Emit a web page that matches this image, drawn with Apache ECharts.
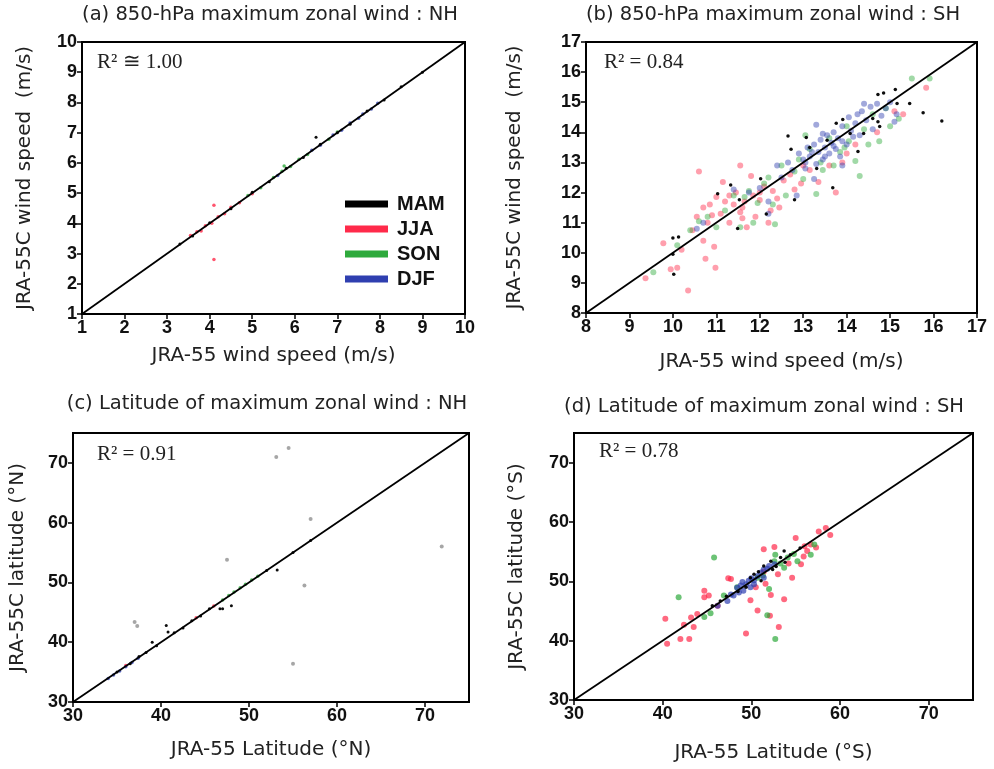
<!DOCTYPE html>
<html>
<head>
<meta charset="utf-8">
<script src="https://cdn.jsdelivr.net/npm/echarts@6/dist/echarts.min.js"></script>
<style>html,body{margin:0;padding:0;background:#fff}#c{width:994px;height:769px}</style>
</head>
<body>
<div id="c"></div>
<script>
// ---------- DATA ----------
const seasons = ['MAM', 'JJA', 'SON', 'DJF'];
const panelTitles = ['(a) 850-hPa maximum zonal wind : NH', '(b) 850-hPa maximum zonal wind : SH',
  '(c) Latitude of maximum zonal wind : NH', '(d) Latitude of maximum zonal wind : SH'];
const r2Labels = ['R\u00B2 \u2245 1.00', 'R\u00B2 = 0.84', 'R\u00B2 = 0.91', 'R\u00B2 = 0.78'];
const xNames = ['JRA-55 wind speed (m/s)', 'JRA-55 wind speed (m/s)', 'JRA-55 Latitude (\u00B0N)', 'JRA-55 Latitude (\u00B0S)'];
const yNames = ['JRA-55C wind speed  (m/s)', 'JRA-55C wind speed  (m/s)', 'JRA-55C latitude (\u00B0N)', 'JRA-55C latitude (\u00B0S)'];
const axisMin = [1, 8, 30, 30];
const axisMax = [10, 17, 75, 75];
const axisStep = [1, 1, 10, 10];

// Panel (a): NH 850-hPa max wind speed
const aMAM = [[3.3,3.32],[3.6,3.58],[4.0,4.02],[4.5,4.48],[5.0,5.03],[5.4,5.38],[5.8,5.82],[6.2,6.18],[6.5,6.85],[6.6,6.62],[7.0,7.0],[7.3,7.28],[7.7,7.72],[8.1,8.08],[8.5,8.52],[9.0,9.0]];
const aJJA = [[3.55,3.6],[3.7,3.72],[3.8,3.75],[3.9,3.92],[4.05,4.0],[4.1,4.6],[4.1,2.8],[4.2,4.22],[4.35,4.32],[4.5,4.53],[4.7,4.68],[5.0,4.98]];
const aSON = [[4.9,4.92],[5.2,5.18],[5.5,5.52],[5.7,5.72],[5.75,5.9],[5.9,5.88],[6.1,6.12],[6.3,6.28],[6.8,6.78],[7.0,7.02]];
const aDJF = [[5.6,5.58],[6.4,6.42],[6.6,6.58],[6.9,6.92],[7.1,7.08],[7.3,7.32],[7.5,7.48],[7.6,7.62],[7.8,7.78],[7.95,7.97]];

// Panel (b): SH 850-hPa max wind speed
const bMAM = [[10.02,9.29],[10.0,10.49],[10.13,10.52],[10.0,9.95],[11.03,11.96],[11.33,12.25],[11.53,11.76],[11.49,10.81],[12.02,12.46],[12.15,11.29],[12.65,13.88],[12.72,13.44],[13.07,13.83],[13.15,13.5],[13.68,12.16],[13.76,14.3],[13.91,14.43],[14.26,13.36],[14.6,14.46],[14.72,15.26],[14.85,15.31],[15.12,15.42],[15.16,14.96],[15.45,14.96],[15.76,14.65],[16.19,14.38],[14.76,14.19],[14.72,14.35],[13.55,13.74],[13.31,12.8],[12.8,11.76],[14.39,13.96],[14.08,13.96]];
const bJJA = [[9.37,9.15],[9.78,10.32],[10.1,9.5],[9.95,9.45],[10.35,8.75],[10.2,10.1],[10.45,10.75],[10.6,12.7],[10.55,11.2],[10.7,11.5],[10.75,9.8],[10.95,10.2],[10.98,9.5],[10.85,11.6],[10.9,11.25],[11.0,11.85],[11.1,11.3],[11.15,12.35],[11.2,11.7],[11.3,11.0],[11.4,11.6],[11.45,12.0],[11.55,12.9],[11.55,11.35],[11.6,11.5],[11.65,11.7],[11.7,10.85],[11.8,12.55],[11.85,11.9],[11.9,11.2],[12.0,11.75],[12.1,12.2],[12.2,11.0],[12.25,11.4],[12.3,12.05],[12.45,11.5],[12.55,12.4],[12.7,12.6],[12.8,12.1],[12.95,12.3],[13.15,12.75],[13.35,12.35],[13.6,12.9],[13.75,12.0],[13.9,13.0],[14.2,13.6],[14.7,14.0],[15.1,14.7],[15.3,14.6],[15.83,15.48],[14.0,13.3],[10.7,10.4],[10.8,11.0],[11.3,11.9],[11.6,11.15],[12.0,12.0],[12.4,11.8],[13.0,12.9]];
const bSON = [[9.55,9.35],[10.1,10.25],[10.4,10.75],[10.6,11.05],[10.8,11.2],[11.0,10.85],[11.2,11.4],[11.4,11.9],[11.55,10.85],[11.65,11.85],[11.75,12.05],[11.85,11.0],[11.95,11.65],[12.1,12.3],[12.3,11.6],[12.5,12.9],[12.6,11.9],[12.8,12.7],[12.9,13.1],[13.0,12.45],[13.15,13.45],[13.3,11.95],[13.45,12.75],[13.6,13.8],[13.7,12.9],[13.85,13.35],[14.0,14.2],[14.05,13.7],[14.2,13.05],[14.3,12.55],[14.5,13.6],[14.6,14.6],[14.75,13.7],[14.9,14.8],[15.0,14.2],[15.2,14.45],[15.5,15.79],[15.91,15.79],[12.2,12.5],[13.05,13.9],[12.35,10.95],[13.4,13.0],[13.95,13.5],[14.4,14.1]];
const bDJF = [[10.55,10.8],[10.7,11.0],[11.4,12.1],[11.75,12.0],[12.0,12.15],[12.2,11.3],[12.4,12.9],[12.5,12.5],[12.65,13.0],[12.75,12.75],[12.9,13.3],[13.0,13.1],[13.05,12.8],[13.1,13.5],[13.15,13.2],[13.25,13.6],[13.3,12.95],[13.35,13.35],[13.4,13.75],[13.45,13.1],[13.5,13.5],[13.55,13.9],[13.6,13.3],[13.65,13.65],[13.7,14.0],[13.75,13.45],[13.8,13.8],[13.85,13.2],[13.9,14.2],[14.0,13.6],[14.05,14.5],[14.1,14.05],[14.2,14.3],[14.3,13.9],[14.35,14.7],[14.45,14.4],[14.55,14.85],[14.6,14.1],[14.7,14.95],[14.8,14.55],[14.9,14.8],[15.0,15.0],[15.1,14.35],[15.15,14.6],[12.2,11.7],[13.25,12.45],[13.9,12.9],[12.85,11.9],[13.3,14.25],[14.4,14.95],[13.2,13.35],[13.5,13.2],[13.7,13.55],[13.9,13.7],[14.15,13.85],[13.05,13.0],[13.45,13.95],[14.25,14.6]];

// Panel (c): NH latitude of max wind
const cMAM = [[35,35],[36.5,36.4],[37.5,37.6],[38.3,38.3],[39,40],[39.5,39.4],[40.6,42.8],[40.8,41.7],[41.5,41.6],[42.5,42.4],[43.5,43.6],[44.5,44.4],[45.5,45.6],[46.7,45.6],[47.0,45.6],[48,46.1],[52,52],[53.2,52.1],[55,55],[57,57]];
const cJJA = [[36,36.1],[44,44.1],[46,46.05]];
const cSON = [[47,47.05],[47.7,47.8],[48.3,48.4],[49,49.1],[49.6,49.7],[50.3,50.4],[51,51.05]];
const cDJF = [[34,33.95],[34.6,34.5],[35.3,35.2],[36,35.9],[36.7,36.6],[37.4,37.3]];
const cOutliers = [[53.1,71.0],[54.5,72.5],[57.0,60.6],[47.5,53.8],[55.0,36.4],[71.9,56.0],[56.3,49.5],[37.0,43.4],[37.3,42.7]];

// Panel (d): SH latitude of max wind
const dMAM = [[46.5,46.7],[50.3,51.2],[52.2,53.4],[53.3,54.0],[51.4,52.6],[45.6,45.9],[54.4,54.5],[53.7,55.1],[49.4,49.0],[51.1,50.1],[47.2,47.5],[48.5,48.3],[52.8,52.5],[55.5,55.6],[50.8,51.6],[52.4,52.0],[53.8,53.2],[49.9,50.6]];
const dJJA = [[40.3,43.7],[40.5,39.5],[42.0,40.3],[43.0,40.3],[42.4,42.7],[43.5,42.3],[43.2,43.9],[43.9,44.5],[44.7,48.4],[44.7,47.3],[45.2,47.6],[46.2,45.9],[47.4,50.5],[47.7,50.4],[49.4,41.2],[49.9,46.8],[50.5,49.0],[50.7,45.1],[51.4,51.6],[51.6,49.6],[52.2,47.7],[53.1,42.3],[53.7,47.0],[54.6,50.6],[55.6,52.9],[56.3,55.1],[56.7,56.2],[57.6,58.4],[58.4,59.0],[58.9,57.8],[57.3,55.7],[55.0,57.3],[51.4,55.4],[52.6,55.8],[55.9,54.2],[52.1,44.2],[54.2,53.0],[53.0,51.2],[56.0,55.9]];
const dSON = [[52.6,53.4],[54.1,54.0],[55.2,53.4],[53.7,52.3],[48.4,49.0],[46.9,47.6],[45.4,44.6],[44.7,44.0],[52.7,54.5],[50.7,50.6],[57.1,56.2],[56.7,54.5],[52.0,48.7],[45.8,54.0],[41.8,47.3],[52.7,40.3],[51.8,44.3],[54.8,54.6],[53.3,53.0],[51.3,51.0]];
const dDJF = [[47.7,47.8],[48.4,48.9],[48.8,49.3],[49.4,49.5],[49.7,50.1],[50.3,50.2],[49.9,49.0],[50.7,50.9],[51.1,51.5],[51.4,52.0],[52.0,52.6],[52.6,52.9],[49.1,48.4],[48.0,47.6],[47.3,46.7],[46.2,45.9],[50.3,49.5],[51.4,50.6],[49.0,49.9],[50.0,50.5],[51.8,52.1],[48.6,48.1]];

const seasonColors = { MAM: '#000000', JJA: '#ff2a4a', SON: '#2eaa3c', DJF: '#2f3fb0' };

// ---------- LAYOUT ----------
const grids = [
  { left: 82, top: 42, width: 383, height: 272 },
  { left: 586, top: 42, width: 391, height: 271 },
  { left: 73, top: 433, width: 396, height: 269 },
  { left: 574, top: 433, width: 399, height: 267 }
];
const titlePos = [[270, 5], [773, 5], [267, 394], [764, 397]];
const r2Pos = [[97, 52], [604, 52], [97, 444], [599, 441]];
const xNameGap = [32, 39, 38, 43];
const yNameGap = [47, 61, 45, 47];

const panelData = [
  { MAM: aMAM, JJA: aJJA, SON: aSON, DJF: aDJF },
  { MAM: bMAM, JJA: bJJA, SON: bSON, DJF: bDJF },
  { MAM: cMAM, JJA: cJJA, SON: cSON, DJF: cDJF },
  { MAM: dMAM, JJA: dJJA, SON: dSON, DJF: dDJF }
];
const drawOrder = ['JJA', 'SON', 'DJF', 'MAM'];

const tickFont = { fontFamily: 'Liberation Sans, Arial, sans-serif', fontWeight: 'bold', fontSize: 18, color: '#111' };
const nameFont = { fontFamily: 'DejaVu Sans, sans-serif', fontSize: 20, color: '#222' };

const xAxes = [], yAxes = [], series = [], titles = [];
for (let i = 0; i < 4; i++) {
  const common = {
    type: 'value', gridIndex: i, min: axisMin[i], max: axisMax[i], interval: axisStep[i],
    splitLine: { show: false },
    axisLine: { show: false },
    axisTick: { show: true, inside: false, length: 5, lineStyle: { color: '#000', width: 1.5 } },
    axisLabel: Object.assign({ margin: 5, showMaxLabel: i < 2 }, tickFont),
    nameLocation: 'middle', nameTextStyle: nameFont
  };
  xAxes.push(Object.assign({}, common, { name: xNames[i], nameGap: xNameGap[i] }));
  yAxes.push(Object.assign({}, common, { name: yNames[i], nameGap: yNameGap[i] }));

  titles.push({ text: panelTitles[i], left: titlePos[i][0], top: titlePos[i][1], textAlign: 'center', padding: 0,
    textStyle: { fontFamily: 'DejaVu Sans, sans-serif', fontSize: 19.5, fontWeight: 'normal', color: '#222' } });
  titles.push({ text: r2Labels[i], left: r2Pos[i][0], top: r2Pos[i][1], padding: 0,
    textStyle: { fontFamily: 'Liberation Serif, DejaVu Serif, serif', fontSize: 21, fontWeight: 'normal', color: '#222' } });

  const isDense = (i === 1 || i === 3);
  drawOrder.forEach(s => {
    const black = s === 'MAM';
    series.push({
      type: 'scatter', name: s, xAxisIndex: i, yAxisIndex: i,
      data: panelData[i][s],
      symbolSize: black ? (isDense ? 3.5 : 3) : (isDense ? 6 : 3.5),
      itemStyle: { color: seasonColors[s], opacity: black ? 0.95 : (i === 1 ? 0.45 : (i === 3 ? 0.7 : 0.8)) },
      z: black ? 4 : 3
    });
  });
  if (i === 2) {
    series.push({ type: 'scatter', name: 'MAM', xAxisIndex: 2, yAxisIndex: 2, data: cOutliers,
      symbolSize: 4, itemStyle: { color: '#000', opacity: 0.35 }, z: 3 });
  }
  series.push({
    type: 'line', xAxisIndex: i, yAxisIndex: i, silent: true, symbol: 'none',
    data: [[axisMin[i], axisMin[i]], [axisMax[i], axisMax[i]]],
    lineStyle: { color: '#000', width: 1.8 }, z: 5
  });
}

const chart = echarts.init(document.getElementById('c'), null, { renderer: 'canvas' });
chart.setOption({
  backgroundColor: '#fff',
  animation: false,
  title: titles,
  grid: grids.map(g => Object.assign({ show: true, borderColor: '#000', borderWidth: 2, backgroundColor: 'transparent' }, g)),
  xAxis: xAxes,
  yAxis: yAxes,
  legend: {
    data: seasons.map(s => ({ name: s, itemStyle: { color: seasonColors[s], opacity: 1 } })),
    orient: 'vertical', left: 345, top: 194, padding: 0, itemWidth: 43, itemHeight: 7, itemGap: 5, icon: 'rect',
    textStyle: { fontFamily: 'Liberation Sans, Arial, sans-serif', fontWeight: 'bold', fontSize: 20, color: '#111', padding: [0, 0, 0, 4] },
    selectedMode: false
  },
  series: series
});
</script>
</body>
</html>
